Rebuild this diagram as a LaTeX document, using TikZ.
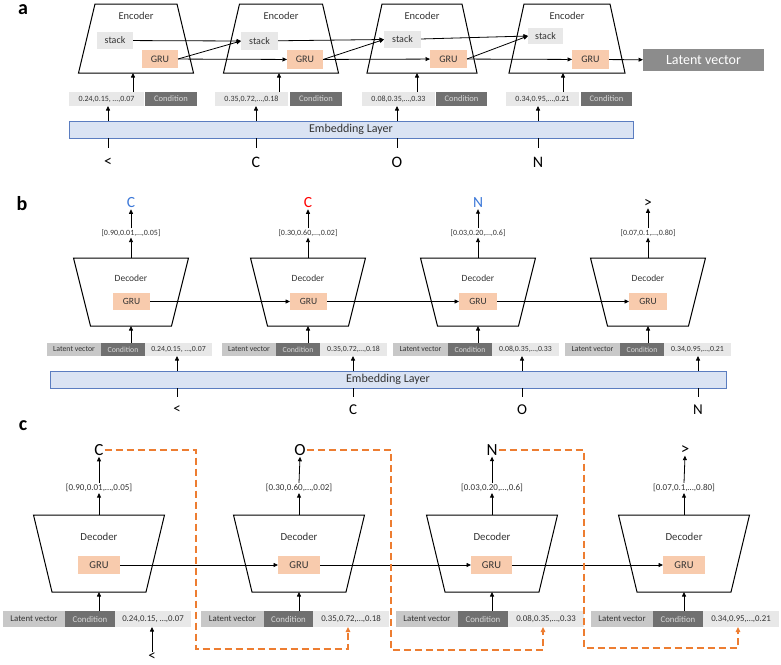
\documentclass[tikz,border=0pt]{standalone}
\usepackage{fontspec}
\setmainfont{Carlito}
\usetikzlibrary{arrows.meta}
\definecolor{lgray}{HTML}{E8E8E8}
\definecolor{mgray}{HTML}{C8C8C8}
\definecolor{dgray}{HTML}{707070}
\definecolor{ctext}{HTML}{D8D8D8}
\definecolor{latg}{HTML}{8C8C8C}
\definecolor{peach}{HTML}{F8CBAD}
\definecolor{embfill}{HTML}{DAE3F3}
\definecolor{embdraw}{HTML}{5B7DC0}
\definecolor{orng}{HTML}{ED7D31}
\definecolor{blu}{HTML}{3C78D8}
\definecolor{txt}{HTML}{333333}
\newcommand\fsz[1]{\fontsize{#1}{#1}\selectfont}
\newcommand\bx[7]{\node[boxs,#2,minimum width={#4pt-#3pt},minimum height={#6pt-#5pt}] (#1) at ({(#3+#4)/2},{(#5+#6)/2}) {#7};}
\newcommand\trap[6]{\draw[trapline] ({#2-#4/2},#3) -- ({#2+#4/2},#3) -- ({#2+#6/2},#5) -- ({#2-#6/2},#5) -- cycle;
  \coordinate (#1t) at (#2,#3); \coordinate (#1b) at (#2,#5);}
\begin{document}
\begin{tikzpicture}[x=1pt,y=-1pt,
  boxs/.style={rectangle,inner sep=0pt,outer sep=0pt},
  lbox/.style={fill=lgray,text=txt},
  mbox/.style={fill=mgray,text=txt},
  cbox/.style={fill=dgray,text=ctext},
  gbox/.style={fill=peach,text=txt},
  arr/.style={-{Triangle[length=4.5pt,width=4pt]},line width=0.8pt},
  oarr/.style={draw=orng,dash pattern=on 7pt off 4pt,line width=1.4pt,-{Triangle[length=5pt,width=4.5pt]}},
  trapline/.style={line width=1pt},
  lab/.style={font=\fsz{20}\bfseries,inner sep=0pt,anchor=base},
  tx/.style={inner sep=1pt,text=txt},
  emb/.style={boxs,draw=embdraw,fill=embfill,line width=1pt,text=txt,font=\fsz{12}},
  letter/.style={inner sep=1pt,text=black}]
\useasboundingbox (0,0) rectangle (781,664);

%%%%%%%%%%%%%%%% panel a
\node[lab] (la) at (23,14) {a};
\trap{e1}{136}{4}{82}{73}{115}
\trap{e2}{281}{4}{83}{73}{115}
\trap{e3}{422}{4}{80}{73}{110}
\trap{e4}{567}{4}{86}{73}{116}
\foreach \c/\n in {136/1,281/2,422/3,567/4}{\node[tx,font=\fsz{10.5}] (en\n) at (\c,16) {Encoder};}
\bx{s1}{lbox,font=\fsz{10}}{97}{133}{32}{49}{stack}
\bx{s2}{lbox,font=\fsz{10}}{241}{278}{32}{50}{stack}
\bx{s3}{lbox,font=\fsz{10}}{384}{421}{31}{48}{stack}
\bx{s4}{lbox,font=\fsz{10}}{528}{563}{28}{44}{stack}
\bx{g1}{gbox,font=\fsz{10}}{142}{178}{50}{68}{GRU}
\bx{g2}{gbox,font=\fsz{10}}{287}{323}{50}{69}{GRU}
\bx{g3}{gbox,font=\fsz{10}}{430}{467}{50}{68}{GRU}
\bx{g4}{gbox,font=\fsz{10}}{572}{609}{50}{69}{GRU}
\bx{LV}{fill=latg,text=white,font=\fsz{14}}{643}{764}{49}{71}{Latent vector}
\draw[arr] (s1) -- (s2.west);
\draw[arr] (g1.east) -- (s2.west);
\draw[arr] (g1) -- (g2);
\draw[arr] (s2) -- (s3.west);
\draw[arr] (g2.east) -- (s3.west);
\draw[arr] (g2) -- (g3);
\draw[arr] (s3) -- (s4.west);
\draw[arr] (g3.east) -- (s4.west);
\draw[arr] (g3) -- (g4);
\draw[arr] (g4) -- (LV);
% inputs
\bx{va1}{lbox,font=\fsz{8}}{69}{144}{92}{106}{0.24,0.15, …,0.07}
\bx{ca1}{cbox,font=\fsz{8.5}}{145}{197}{92}{106}{Condition}
\bx{va2}{lbox,font=\fsz{8}}{215}{288}{92}{106}{0.35,0.72,…,0.18}
\bx{ca2}{cbox,font=\fsz{8.5}}{290}{342}{92}{106}{Condition}
\bx{va3}{lbox,font=\fsz{8}}{362}{435}{92}{106}{0.08,0.35,…,0.33}
\bx{ca3}{cbox,font=\fsz{8.5}}{436}{487}{92}{106}{Condition}
\bx{va4}{lbox,font=\fsz{8}}{506}{579}{92}{106}{0.34,0.95,…,0.21}
\bx{ca4}{cbox,font=\fsz{8.5}}{581}{632}{92}{106}{Condition}
\coordinate (ia1) at (133,73); \coordinate (ia2) at (279,73);
\coordinate (ia3) at (417,73); \coordinate (ia4) at (563,73);
\draw[arr] (va1.north -| ia1) -- (ia1);
\draw[arr] (va2.north -| ia2) -- (ia2);
\draw[arr] (va3.north -| ia3) -- (ia3);
\draw[arr] (va4.north -| ia4) -- (ia4);
\bx{EA}{emb}{69}{633}{121}{138}{Embedding Layer}
\node[letter,font=\fsz{16}] (xa1) at (108,162) {<};
\node[letter,font=\fsz{16}] (xa2) at (256,162) {C};
\node[letter,font=\fsz{16}] (xa3) at (397,162) {O};
\node[letter,font=\fsz{16}] (xa4) at (538,162) {N};
\foreach \i in {1,2,3,4}{
  \draw[line width=0.8pt] (EA.south -| xa\i) -- ++(0,10);
  \draw[arr] (EA.north -| xa\i) -- (va\i.south -| xa\i);
}

%%%%%%%%%%%%%%%% panel b
\node[lab] (lb) at (22,210) {b};
\trap{d1}{131}{258}{115}{326}{81}
\trap{d2}{308}{258}{115}{326}{81}
\trap{d3}{478}{258}{115}{326}{81}
\trap{d4}{648}{258}{115}{326}{81}
\foreach \c/\n in {131/1,308/2,478/3,648/4}{\node[tx,font=\fsz{9.5}] (dn\n) at (\c,278) {Decoder};}
\bx{gb1}{gbox,font=\fsz{9.5}}{113}{150}{293}{310}{GRU}
\bx{gb2}{gbox,font=\fsz{9.5}}{290}{327}{293}{310}{GRU}
\bx{gb3}{gbox,font=\fsz{9.5}}{459}{497}{293}{310}{GRU}
\bx{gb4}{gbox,font=\fsz{9.5}}{629}{667}{293}{310}{GRU}
\draw[arr] (gb1) -- (gb2);
\draw[arr] (gb2) -- (gb3);
\draw[arr] (gb3) -- (gb4);
\node[tx,font=\fsz{8}] (pb1) at (131,233) {[0.90,0.01,…,0.05]};
\node[tx,font=\fsz{8}] (pb2) at (308,233) {[0.30,0.60,…,0.02]};
\node[tx,font=\fsz{8}] (pb3) at (478,233) {[0.03,0.20,…,0.6]};
\node[tx,font=\fsz{8}] (pb4) at (648,233) {[0.07,0.1,…,0.80]};
\node[letter,font=\fsz{15.5},text=blu] (ob1) at (131,203) {C};
\node[letter,font=\fsz{15.5},text=red] (ob2) at (308,203) {C};
\node[letter,font=\fsz{15.5},text=blu] (ob3) at (478,203) {N};
\node[letter,font=\fsz{15.5}] (ob4) at (648,203) {>};
\foreach \i in {1,2,3,4}{
  \draw[arr] (d\i t) -- (pb\i.south);
  \draw[arr] (pb\i.north) -- (ob\i.south);
}
\bx{lb1}{mbox,font=\fsz{7.8}}{47}{101}{343}{356}{Latent vector}
\bx{cb1}{cbox,font=\fsz{7.8}}{101}{145}{343}{356}{Condition}
\bx{vb1}{lbox,font=\fsz{7.8}}{145}{212}{343}{356}{0.24,0.15, …,0.07}
\bx{lb2}{mbox,font=\fsz{7.8}}{222}{276}{343}{356}{Latent vector}
\bx{cb2}{cbox,font=\fsz{7.8}}{276}{320}{343}{356}{Condition}
\bx{vb2}{lbox,font=\fsz{7.8}}{320}{387}{343}{356}{0.35,0.72,…,0.18}
\bx{lb3}{mbox,font=\fsz{7.8}}{393}{448}{343}{356}{Latent vector}
\bx{cb3}{cbox,font=\fsz{7.8}}{448}{492}{343}{356}{Condition}
\bx{vb3}{lbox,font=\fsz{7.8}}{492}{559}{343}{356}{0.08,0.35,…,0.33}
\bx{lb4}{mbox,font=\fsz{7.8}}{565}{620}{343}{356}{Latent vector}
\bx{cb4}{cbox,font=\fsz{7.8}}{620}{664}{343}{356}{Condition}
\bx{vb4}{lbox,font=\fsz{7.8}}{664}{731}{343}{356}{0.34,0.95,…,0.21}
\foreach \i in {1,2,3,4}{\draw[arr] (cb\i.north -| d\i b) -- (d\i b);}
\bx{EB}{emb}{50}{726}{371}{388}{Embedding Layer}
\node[letter,font=\fsz{15}] (xb1) at (177,410) {<};
\node[letter,font=\fsz{15}] (xb2) at (353,410) {C};
\node[letter,font=\fsz{15}] (xb3) at (522,410) {O};
\node[letter,font=\fsz{15}] (xb4) at (698,410) {N};
\foreach \i in {1,2,3,4}{
  \draw[line width=0.8pt] (EB.south -| xb\i) -- ++(0,9);
  \draw[arr] (EB.north -| xb\i) -- (vb\i.south -| xb\i);
}

%%%%%%%%%%%%%%%% panel c
\node[lab] (lc) at (23,430) {c};
\trap{f1}{99}{515}{131}{592}{94}
\trap{f2}{299}{515}{131}{592}{94}
\trap{f3}{492}{515}{131}{592}{94}
\trap{f4}{684}{515}{131}{592}{94}
\foreach \c/\n in {99/1,299/2,492/3,684/4}{\node[tx,font=\fsz{10.8}] (fn\n) at (\c,537) {Decoder};}
\bx{gc1}{gbox,font=\fsz{10.5}}{78}{120}{556}{574}{GRU}
\bx{gc2}{gbox,font=\fsz{10.5}}{278}{320}{556}{574}{GRU}
\bx{gc3}{gbox,font=\fsz{10.5}}{471}{512}{556}{574}{GRU}
\bx{gc4}{gbox,font=\fsz{10.5}}{663}{705}{556}{574}{GRU}
\draw[arr] (gc1) -- (gc2);
\draw[arr] (gc2) -- (gc3);
\draw[arr] (gc3) -- (gc4);
\node[tx,font=\fsz{9}] (pc1) at (99,488) {[0.90,0.01,…,0.05]};
\node[tx,font=\fsz{9}] (pc2) at (299,488) {[0.30,0.60,…,0.02]};
\node[tx,font=\fsz{9}] (pc3) at (492,488) {[0.03,0.20,…,0.6]};
\node[tx,font=\fsz{9}] (pc4) at (684,488) {[0.07,0.1,…,0.80]};
\node[letter,font=\fsz{17}] (oc1) at (99,450) {C};
\node[letter,font=\fsz{17}] (oc2) at (300,450) {O};
\node[letter,font=\fsz{17}] (oc3) at (492,450) {N};
\node[letter,font=\fsz{17}] (oc4) at (685,450) {>};
\foreach \i in {1,2,3,4}{
  \draw[arr] (f\i t) -- (pc\i.south);
  \draw[arr] (pc\i.north) -- (oc\i.south);
}
\bx{lc1}{mbox,font=\fsz{8.8}}{3}{65}{611}{627}{Latent vector}
\bx{cc1}{cbox,font=\fsz{8.8}}{65}{115}{611}{627}{Condition}
\bx{vc1}{lbox,font=\fsz{8.8}}{115}{191}{611}{627}{0.24,0.15, …,0.07}
\bx{lc2}{mbox,font=\fsz{8.8}}{201}{264}{611}{627}{Latent vector}
\bx{cc2}{cbox,font=\fsz{8.8}}{264}{313}{611}{627}{Condition}
\bx{vc2}{lbox,font=\fsz{8.8}}{313}{389}{611}{627}{0.35,0.72,…,0.18}
\bx{lc3}{mbox,font=\fsz{8.8}}{396}{458}{611}{627}{Latent vector}
\bx{cc3}{cbox,font=\fsz{8.8}}{458}{508}{611}{627}{Condition}
\bx{vc3}{lbox,font=\fsz{8.8}}{508}{584}{611}{627}{0.08,0.35,…,0.33}
\bx{lc4}{mbox,font=\fsz{8.8}}{591}{653}{611}{627}{Latent vector}
\bx{cc4}{cbox,font=\fsz{8.8}}{653}{703}{611}{627}{Condition}
\bx{vc4}{lbox,font=\fsz{8.8}}{703}{779}{611}{627}{0.34,0.95,…,0.21}
\foreach \i in {1,2,3,4}{\draw[arr] (cc\i.north -| f\i b) -- (f\i b);}
\node[letter,font=\fsz{15}] (xc1) at (152,657) {<};
\draw[arr] (xc1.north) -- (vc1.south -| xc1);
% orange feedback
\coordinate (k1) at (196,649); \coordinate (t1) at (348,627);
\coordinate (k2) at (391,650); \coordinate (t2) at (543,627);
\coordinate (k3) at (584,648); \coordinate (t3) at (738,627);
\draw[oarr] (oc1.east) -| (k1) -| (t1);
\draw[oarr] (oc2.east) -| (k2) -| (t2);
\draw[oarr] (oc3.east) -| (k3) -| (t3);
\end{tikzpicture}
\end{document}
